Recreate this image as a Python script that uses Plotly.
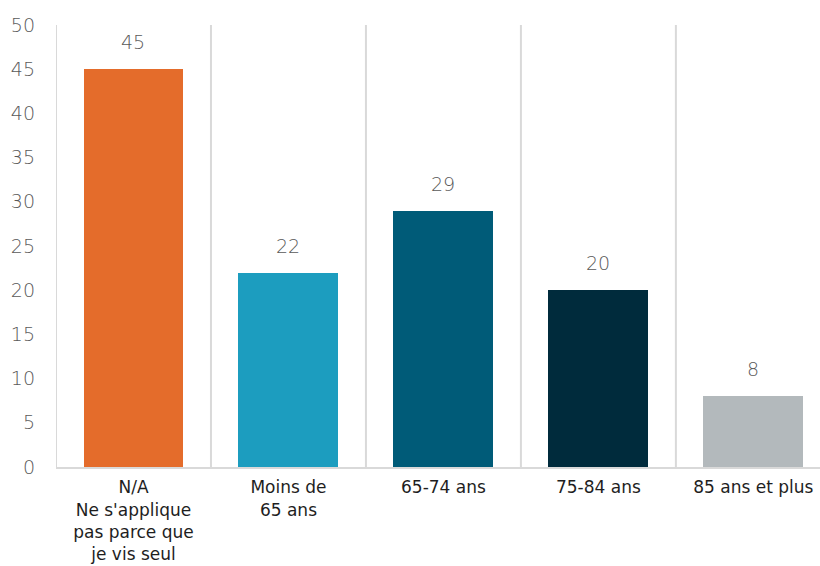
import plotly.graph_objects as go

# Data
categories = [
    "N/A<br>Ne s'applique<br>pas parce que<br>je vis seul",
    "Moins de<br>65 ans",
    "65-74 ans",
    "75-84 ans",
    "85 ans et plus",
]
values = [45, 22, 29, 20, 8]
bar_colors = ["#E46C2B", "#1C9DBF", "#005B78", "#002B3C", "#B3B9BC"]
y_ticks = [0, 5, 10, 15, 20, 25, 30, 35, 40, 45, 50]

FONT = "DejaVu Sans"
x_pos = list(range(len(categories)))

fig = go.Figure()
fig.add_trace(go.Bar(
    x=x_pos,
    y=values,
    width=0.645,
    marker=dict(color=bar_colors, line=dict(width=0)),
    hoverinfo="skip",
))

# Value labels above each bar
for xi, v in zip(x_pos, values):
    fig.add_annotation(
        x=xi, y=v, text=str(v), showarrow=False,
        yanchor="bottom", yshift=14,
        font=dict(family=FONT, size=19, color="#595959", weight=200),
    )

# Vertical separators between categories
for b in range(len(categories)):
    fig.add_shape(
        type="line", xref="x", yref="y",
        x0=b - 0.5, x1=b - 0.5, y0=0, y1=50,
        line=dict(color="#D9D9D9", width=2), layer="below",
    )

fig.update_layout(
    width=820, height=566,
    margin=dict(l=56, r=0, t=25, b=99),
    paper_bgcolor="white", plot_bgcolor="white",
    showlegend=False,
    bargap=0,
    xaxis=dict(
        range=[-0.5, 4.43],
        tickmode="array", tickvals=x_pos, ticktext=categories,
        showgrid=False, zeroline=False,
        showline=True, linecolor="#D9D9D9", linewidth=2,
        ticks="", ticklabelstandoff=4, automargin=False,
        tickfont=dict(family=FONT, size=17, color="#1E1E1E"),
        fixedrange=True,
    ),
    yaxis=dict(
        range=[0, 50],
        tickmode="array", tickvals=y_ticks,
        showgrid=False, zeroline=False, showline=False,
        ticks="", ticklabelstandoff=20, automargin=False,
        tickfont=dict(family=FONT, size=19, color="#595959", weight=200),
        fixedrange=True,
    ),
)

fig.write_html("out.html")
